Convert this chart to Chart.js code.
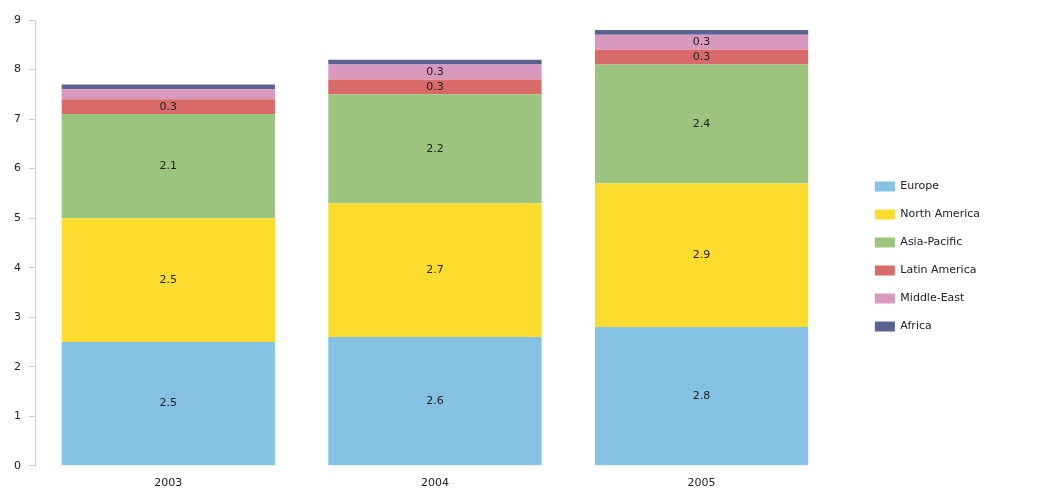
<!DOCTYPE html>
<html>
<head>
<meta charset="utf-8">
<script src="https://cdn.jsdelivr.net/npm/chart.js@4"></script>
<style>
  html, body { margin: 0; padding: 0; background: #fff; }
  #wrap { width: 1056px; height: 500px; }
</style>
</head>
<body>
<div id="wrap"><canvas id="chart"></canvas></div>
<script>
const years = ['2003', '2004', '2005'];
const europe = [2.5, 2.6, 2.8];
const northAmerica = [2.5, 2.7, 2.9];
const asiaPacific = [2.1, 2.2, 2.4];
const latinAmerica = [0.3, 0.3, 0.3];
const middleEast = [0.2, 0.3, 0.3];
const africa = [0.1, 0.1, 0.1];
const yTicks = [0, 1, 2, 3, 4, 5, 6, 7, 8, 9];

const fontFamily = '"DejaVu Sans", Verdana, sans-serif';

// values printed inside the segments (small ones are skipped)
const segmentLabels = {
    id: 'segmentLabels',
    afterDatasetsDraw(chart) {
        const ctx = chart.ctx;
        ctx.save();
        ctx.font = '11px ' + fontFamily;
        ctx.fillStyle = '#222';
        ctx.textAlign = 'center';
        ctx.textBaseline = 'middle';
        chart.data.datasets.forEach((ds, i) => {
            const meta = chart.getDatasetMeta(i);
            meta.data.forEach((bar, j) => {
                const v = ds.data[j];
                if (v < 0.25) return;
                const mid = (bar.y + bar.base) / 2;
                ctx.fillText(v.toFixed(1), bar.x, mid);
            });
        });
        ctx.restore();
    }
};

function series(label, data, color) {
    return {
        label: label,
        data: data,
        backgroundColor: color,
        borderWidth: 0,
        categoryPercentage: 0.8,
        barPercentage: 1.0
    };
}

new Chart(document.getElementById('chart'), {
    type: 'bar',
    data: {
        labels: years,
        datasets: [
            series('Europe', europe, '#85c1e3'),
            series('North America', northAmerica, '#fddc30'),
            series('Asia-Pacific', asiaPacific, '#9dc47f'),
            series('Latin America', latinAmerica, '#d86b6a'),
            series('Middle-East', middleEast, '#d998bd'),
            series('Africa', africa, '#586390')
        ]
    },
    options: {
        responsive: true,
        maintainAspectRatio: false,
        animation: false,
        layout: { padding: { top: 20, right: 66, bottom: 7, left: 0 } },
        plugins: {
            tooltip: { enabled: false },
            legend: {
                position: 'right',
                labels: {
                    boxWidth: 20,
                    boxHeight: 10,
                    padding: 17,
                    color: '#222',
                    font: { family: fontFamily, size: 11 }
                }
            }
        },
        scales: {
            x: {
                stacked: true,
                grid: { display: false },
                border: { display: false },
                ticks: { color: '#222', font: { family: fontFamily, size: 11 }, padding: 3 }
            },
            y: {
                stacked: true,
                min: 0,
                max: 9,
                afterBuildTicks(scale) {
                    scale.ticks = yTicks.map(v => ({ value: v }));
                },
                afterFit(scale) { scale.width = 35; },
                grid: { drawOnChartArea: false, tickLength: 6, tickColor: '#ccc' },
                border: { color: '#ccc' },
                ticks: { color: '#222', font: { family: fontFamily, size: 11 }, padding: 8 }
            },
            gap: {
                position: 'right',
                display: true,
                afterFit(scale) { scale.width = 23; },
                grid: { display: false },
                border: { display: false },
                ticks: { display: false }
            }
        }
    },
    plugins: [segmentLabels]
});
</script>
</body>
</html>
